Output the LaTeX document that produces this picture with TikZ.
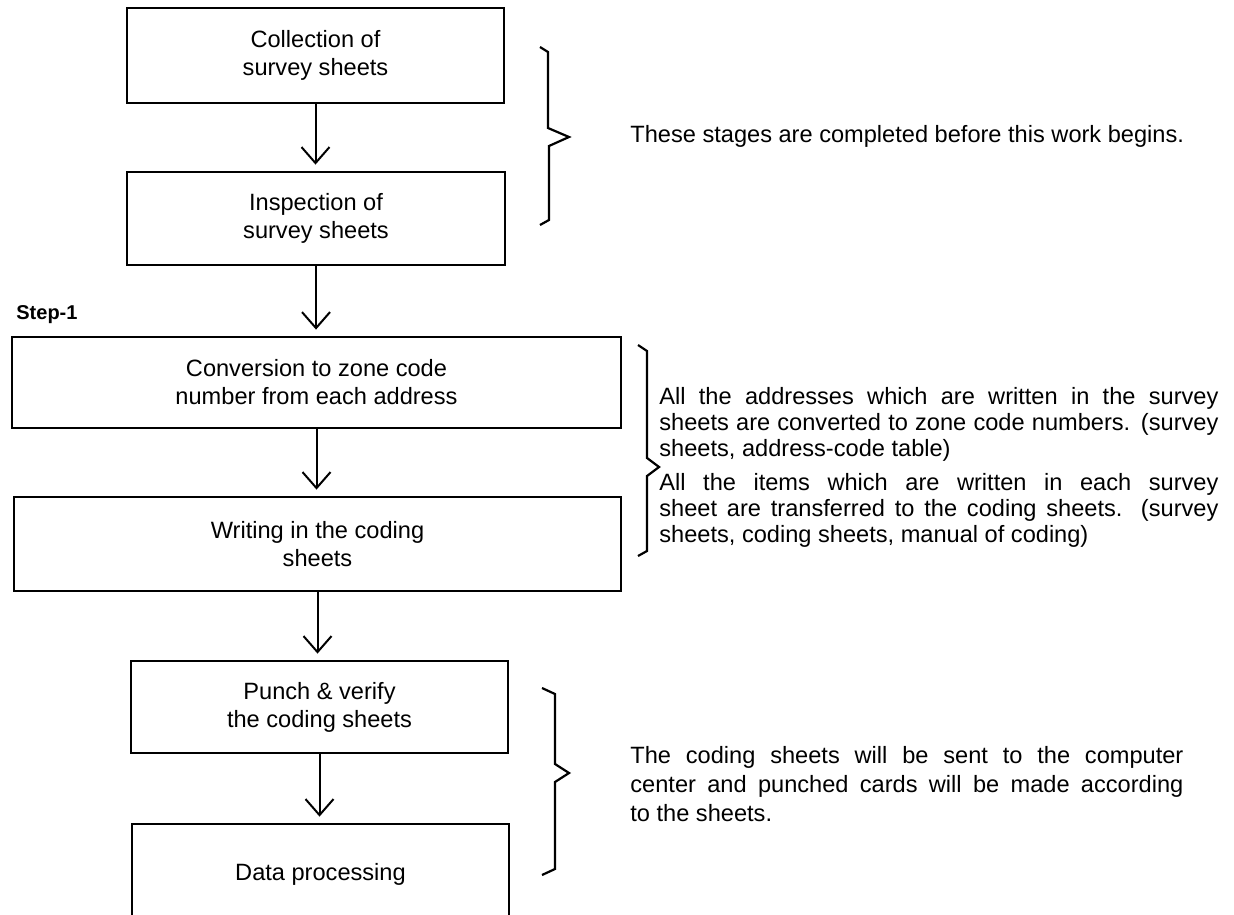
\documentclass[tikz,border=0pt]{standalone}
\usepackage{fontspec}
\setmainfont{Liberation Sans}
\usetikzlibrary{arrows.meta}
\begin{document}
\begin{tikzpicture}[x=0.5pt,y=-0.5pt,
  box/.style={draw, line width=1.4pt, rectangle, inner sep=0pt, align=center,
    font=\fontsize{11.8}{14}\selectfont},
  flow/.style={line width=1pt, -{Straight Barb[length=8pt,width=14pt,line width=1pt]}, shorten >=3pt},
  brace/.style={line width=1.1pt, line join=miter},
  note/.style={anchor=west, inner sep=0pt, font=\fontsize{11.8}{14}\selectfont,
    text height=8.5pt, text depth=2.5pt}]
\useasboundingbox (0,0) rectangle (1234,914);
\clip (0,0) rectangle (1234,914);

% process boxes
\node[box, minimum width=188.5pt, minimum height=47.5pt] (b1) at (315.5,55.5) {Collection of\\survey sheets};
\node[box, minimum width=189pt, minimum height=46.5pt] (b2) at (316,218.5) {Inspection of\\survey sheets};
\node[box, minimum width=304.5pt, minimum height=45.5pt] (b3) at (316.5,382.5) {Conversion to zone code\\number from each address};
\node[box, minimum width=303.5pt, minimum height=47pt] (b4) at (317.5,544) {Writing in the coding\\sheets};
\node[box, minimum width=188.5pt, minimum height=46pt] (b5) at (319.5,707) {Punch \& verify\\the coding sheets};
\node[box, minimum width=188.5pt, minimum height=50pt] (b6) at (320.5,874) {Data processing};

\node[anchor=west, inner sep=0pt, font=\bfseries\fontsize{10}{12}\selectfont] (s1) at (16,315) {Step-1};

% flow arrows
\draw[flow] (b1.south) -- (b1.south |- b2.north);
\draw[flow] (b2.south) -- (b2.south |- b3.north);
\draw[flow] (b3.south) -- (b3.south |- b4.north);
\draw[flow] (b4.south) -- (b4.south |- b5.north);
\draw[flow] (b5.south) -- (b5.south |- b6.north);

% braces
\draw[brace] (540,47) -- (548,52) -- (548,128) -- (569,137) -- (549,146) -- (549,220) -- (540,225);
\draw[brace] (638,345) -- (647,351) -- (647,458) -- (659,467) -- (647,476) -- (647,551) -- (638,556);
\draw[brace] (542,688) -- (555,694) -- (555,764) -- (569,773) -- (555,782) -- (555,869) -- (542,875);

% notes
\node[note] (t1) at (630,137) {These stages are completed before this work begins.};

\node[note] (p1a) at (659,398) {\makebox[279.5pt][s]{All the addresses which are written in the survey}};
\node[note] (p1b) at (659,424) {\makebox[279.5pt][s]{sheets are converted to zone code numbers. (survey}};
\node[note] (p1c) at (659,450) {sheets, address-code table)};

\node[note] (p2a) at (659,484) {\makebox[279.5pt][s]{All the items which are written in each survey}};
\node[note] (p2b) at (659,510) {\makebox[279.5pt][s]{sheet are transferred to the coding sheets. (survey}};
\node[note] (p2c) at (659,536) {sheets, coding sheets, manual of coding)};

\node[note] (p3a) at (630,757) {\makebox[276.5pt][s]{The coding sheets will be sent to the computer}};
\node[note] (p3b) at (630,786) {\makebox[276.5pt][s]{center and punched cards will be made according}};
\node[note] (p3c) at (630,815) {to the sheets.};
\end{tikzpicture}
\end{document}
